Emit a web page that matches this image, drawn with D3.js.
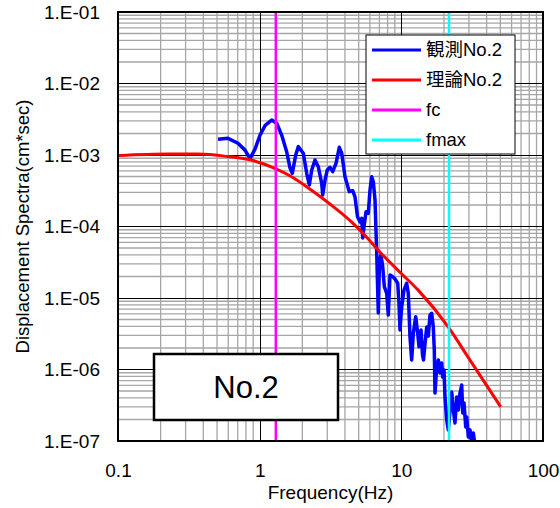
<!DOCTYPE html>
<html>
<head>
<meta charset="utf-8">
<script src="https://cdn.jsdelivr.net/npm/d3@7"></script>
<style>
  body { margin: 0; background: #fff; }
  svg text { font-family: "Liberation Sans", Arial, "Noto Sans CJK JP", sans-serif; fill: #000; }
</style>
</head>
<body>
<svg id="chart" width="560" height="508"></svg>
<script>
// observed spectrum (観測No.2): frequency (Hz) / displacement spectrum (cm*sec)
const obsFreq = [0.508, 0.598, 0.703, 0.788, 0.855, 0.927, 1.006, 1.090, 1.216, 1.319,
  1.430, 1.551, 1.637, 1.700, 1.797, 1.874, 2.032, 2.148, 2.241, 2.330,
  2.458, 2.593, 2.741, 2.786, 2.892, 3.002, 3.137, 3.278, 3.459, 3.649,
  3.794, 4.003, 4.292, 4.536, 4.709, 4.905, 5.108, 5.251, 5.338, 5.452,
  5.632, 5.846, 6.010, 6.178, 6.341, 6.519, 6.702, 6.878, 7.014, 7.187,
  7.389, 7.583, 7.884, 8.091, 8.318, 8.692, 9.022, 9.428, 9.627, 9.786,
  10.06, 10.44, 10.91, 11.20, 11.51, 11.83, 12.15, 12.63, 13.05, 13.33,
  13.77, 14.11, 14.34, 14.70, 15.11, 15.50, 15.94, 16.38, 16.81, 17.09,
  17.28, 17.77, 18.24, 18.75, 19.28, 19.59, 20.01, 20.34, 20.91, 21.46,
  22.06, 22.68, 23.27, 23.92, 24.59, 25.24, 25.95, 26.68, 27.12, 27.70,
  28.48, 28.94, 29.70, 30.53, 31.38, 32.21, 33.11];
const obsAmp = [1.66e-3, 1.71e-3, 1.46e-3, 1.17e-3, 8.9e-4, 1.21e-3, 1.90e-3, 2.57e-3, 3.09e-3, 2.78e-3,
  1.90e-3, 1.11e-3, 6.6e-4, 5.55e-4, 1.0e-3, 1.31e-3, 1.06e-3, 5.55e-4, 3.81e-4, 6.17e-4,
  8.51e-4, 6.86e-4, 4.02e-4, 2.76e-4, 4.47e-4, 6.17e-4, 6.73e-4, 5.84e-4, 7.65e-4, 1.28e-3,
  1.06e-3, 4.97e-4, 3.07e-4, 3.17e-4, 2.59e-4, 1.37e-4, 1.16e-4, 1.30e-4, 6.9e-5, 9.9e-5,
  1.61e-4, 1.53e-4, 3.24e-4, 4.97e-4, 4.23e-4, 2.35e-4, 4.22e-5, 6.17e-6, 3.40e-5, 3.99e-5,
  2.74e-5, 1.44e-5, 1.16e-5, 5.78e-6, 2.10e-5, 1.99e-5, 1.84e-5, 1.61e-5, 8.43e-6, 3.57e-6,
  7.56e-6, 1.29e-5, 1.61e-5, 1.16e-5, 2.87e-6, 1.36e-6, 3.21e-6, 5.48e-6, 3.21e-6, 2.08e-6,
  3.57e-6, 1.60e-6, 1.36e-6, 2.32e-6, 3.93e-6, 2.94e-6, 5.78e-6, 6.11e-6, 3.93e-6, 1.87e-6,
  4.69e-7, 1.08e-6, 1.36e-6, 8.93e-7, 1.23e-6, 7.85e-7, 9.84e-7, 4.12e-7, 1.97e-7, 1.43e-7,
  2.71e-7, 4.84e-7, 2.71e-7, 1.79e-7, 4.12e-7, 2.71e-7, 4.69e-7, 6.07e-7, 2.46e-7, 3.40e-7,
  1.57e-7, 2.17e-7, 1.14e-7, 1.43e-7, 9.4e-8, 1.29e-7, 8.8e-8];

// theoretical spectrum (理論No.2)
const theoFreq = [0.1, 0.225, 0.367, 0.598, 0.869, 1.28, 1.67, 2.31, 3.2, 4.43,
  5.51, 6.84, 10, 13.1, 21.3, 29.5, 50.3];
const theoAmp = [9.8e-4, 1.03e-3, 1.03e-3, 9.5e-4, 8.5e-4, 6.5e-4, 5.0e-4, 3.24e-4, 2.0e-4, 1.17e-4,
  7.6e-5, 4.7e-5, 2.2e-5, 1.3e-5, 4.0e-6, 1.5e-6, 3.0e-7];

const fc = 1.3;
const fmax = 21.7;

const xTickValues = [0.1, 1, 10, 100];
const xTickLabels = ["0.1", "1", "10", "100"];
const yTickValues = [1e-7, 1e-6, 1e-5, 1e-4, 1e-3, 1e-2, 1e-1];
const yTickLabels = ["1.E-07", "1.E-06", "1.E-05", "1.E-04", "1.E-03", "1.E-02", "1.E-01"];

const legendNames = ["観測No.2", "理論No.2", "fc", "fmax"];
const legendColors = ["#0000ff", "#ff0000", "#ff00ff", "#00ffff"];

const PLOT = {left: 118, right: 543, top: 12, bottom: 441};

const x = d3.scaleLog().domain([0.1, 100]).range([PLOT.left, PLOT.right]);
const y = d3.scaleLog().domain([1e-7, 1e-1]).range([PLOT.bottom, PLOT.top]);

const svg = d3.select('#chart');

svg.append('defs').append('clipPath').attr('id', 'plotClip')
  .append('rect')
  .attr('x', PLOT.left).attr('y', PLOT.top)
  .attr('width', PLOT.right - PLOT.left).attr('height', PLOT.bottom - PLOT.top);

const isMajor = (v) => Math.abs(Math.log10(v) - Math.round(Math.log10(v))) < 1e-9;

// grid
const grid = svg.append('g');
const xGrid = x.ticks().filter(v => v > 0.1 && v < 100);
const yGrid = y.ticks().filter(v => v > 1e-7 && v < 1e-1);

grid.selectAll('.xminor')
  .data(xGrid.filter(v => !isMajor(v)))
  .enter().append('line')
  .attr('x1', d => x(d)).attr('x2', d => x(d))
  .attr('y1', PLOT.top).attr('y2', PLOT.bottom)
  .attr('stroke', '#a6a6a6').attr('stroke-width', 1.3);
grid.selectAll('.yminor')
  .data(yGrid.filter(v => !isMajor(v)))
  .enter().append('line')
  .attr('y1', d => y(d)).attr('y2', d => y(d))
  .attr('x1', PLOT.left).attr('x2', PLOT.right)
  .attr('stroke', '#a6a6a6').attr('stroke-width', 1.3);
grid.selectAll('.xmajor')
  .data(xGrid.filter(isMajor))
  .enter().append('line')
  .attr('x1', d => Math.round(x(d)) + 0.5).attr('x2', d => Math.round(x(d)) + 0.5)
  .attr('y1', PLOT.top).attr('y2', PLOT.bottom)
  .attr('stroke', '#000').attr('stroke-width', 1);
grid.selectAll('.ymajor')
  .data(yGrid.filter(isMajor))
  .enter().append('line')
  .attr('y1', d => Math.round(y(d)) + 0.5).attr('y2', d => Math.round(y(d)) + 0.5)
  .attr('x1', PLOT.left).attr('x2', PLOT.right)
  .attr('stroke', '#000').attr('stroke-width', 1);

// series
const plot = svg.append('g').attr('clip-path', 'url(#plotClip)');

const obsData = obsFreq.map((f, i) => ({f: f, a: obsAmp[i]}));
const theoData = theoFreq.map((f, i) => ({f: f, a: theoAmp[i]}));

plot.append('path')
  .datum(obsData)
  .attr('d', d3.line().x(d => x(d.f)).y(d => y(d.a)))
  .attr('fill', 'none')
  .attr('stroke', legendColors[0])
  .attr('stroke-width', 3.5)
  .attr('stroke-linejoin', 'round');

plot.append('path')
  .datum(theoData)
  .attr('d', d3.line().x(d => x(d.f)).y(d => y(d.a)).curve(d3.curveMonotoneX))
  .attr('fill', 'none')
  .attr('stroke', legendColors[1])
  .attr('stroke-width', 3);

plot.append('line')
  .attr('x1', x(fc)).attr('x2', x(fc))
  .attr('y1', PLOT.top).attr('y2', PLOT.bottom)
  .attr('stroke', legendColors[2]).attr('stroke-width', 2.5);
plot.append('line')
  .attr('x1', x(fmax)).attr('x2', x(fmax))
  .attr('y1', PLOT.top).attr('y2', PLOT.bottom)
  .attr('stroke', legendColors[3]).attr('stroke-width', 2.5);

// plot frame
svg.append('rect')
  .attr('x', PLOT.left).attr('y', PLOT.top)
  .attr('width', PLOT.right - PLOT.left).attr('height', PLOT.bottom - PLOT.top)
  .attr('fill', 'none').attr('stroke', '#000').attr('stroke-width', 2);

// axes labels
const yAxis = svg.append('g')
  .attr('transform', `translate(${PLOT.left},0)`)
  .call(d3.axisLeft(y).tickValues(yTickValues)
    .tickFormat((d, i) => yTickLabels[i]).tickSize(0).tickPadding(18));
yAxis.select('.domain').remove();
yAxis.selectAll('text').style('font-size', '19px')
  .style('font-family', '"Liberation Sans", Arial, sans-serif');

const xAxis = svg.append('g')
  .attr('transform', `translate(0,${PLOT.bottom})`)
  .call(d3.axisBottom(x).tickValues(xTickValues)
    .tickFormat((d, i) => xTickLabels[i]).tickSize(0).tickPadding(23));
xAxis.select('.domain').remove();
xAxis.selectAll('text').style('font-size', '19px')
  .style('font-family', '"Liberation Sans", Arial, sans-serif');

svg.append('text')
  .attr('x', (PLOT.left + PLOT.right) / 2)
  .attr('y', 499)
  .attr('text-anchor', 'middle')
  .style('font-size', '19px')
  .text('Frequency(Hz)');

svg.append('text')
  .attr('transform', `translate(29,${(PLOT.top + PLOT.bottom) / 2}) rotate(-90)`)
  .attr('text-anchor', 'middle')
  .style('font-size', '18.5px')
  .text('Displacement Spectra(cm*sec)');

// legend
const legend = svg.append('g');
legend.append('rect')
  .attr('x', 366).attr('y', 35).attr('width', 149).attr('height', 119)
  .attr('fill', '#fff').attr('stroke', '#000').attr('stroke-width', 1);
const items = legend.selectAll('.item')
  .data(legendNames)
  .enter().append('g')
  .attr('transform', (d, i) => `translate(372,${50 + i * 30})`);
items.append('line')
  .attr('x1', 0).attr('x2', 49)
  .attr('stroke', (d, i) => legendColors[i]).attr('stroke-width', 3);
items.append('text')
  .attr('x', 54).attr('dy', '0.35em')
  .style('font-size', '18.5px')
  .text(d => d);

// station label box
svg.append('rect')
  .attr('x', 154).attr('y', 354).attr('width', 184).attr('height', 66)
  .attr('fill', '#fff').attr('stroke', '#000').attr('stroke-width', 2.5);
svg.append('text')
  .attr('x', 246).attr('y', 387).attr('dy', '0.36em')
  .attr('text-anchor', 'middle')
  .style('font-size', '31px')
  .text('No.2');
</script>
</body>
</html>
